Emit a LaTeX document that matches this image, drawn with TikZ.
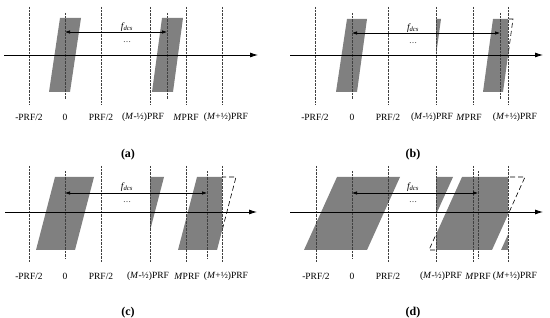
\documentclass[tikz,border=0pt]{standalone}
\usepackage{fontspec}
\setmainfont{Liberation Serif}
\usetikzlibrary{arrows.meta}
\begin{document}
\begin{tikzpicture}[x=1pt,y=-1pt,
  spec/.style={fill=black!50},
  gridln/.style={line width=0.8pt, black!75, dash pattern=on 0.7pt off 0.7pt},
  axisln/.style={line width=0.8pt, black, -{Latex[length=8pt,width=5pt]}},
  farrow/.style={line width=0.6pt, black, {Latex[length=5pt,width=3.5pt]}-{Latex[length=5pt,width=3.5pt]}},
  dashedge/.style={line width=0.6pt, black, dash pattern=on 5pt off 3pt},
  flab/.style={inner sep=0pt, font=\fontsize{9.5}{10}\selectfont},
  dotlab/.style={inner sep=0pt, font=\fontsize{8}{9}\selectfont},
  ticklab/.style={inner sep=0pt, font=\fontsize{9.5}{11}\selectfont},
  captlab/.style={inner sep=0pt, font=\fontsize{12}{13}\selectfont\bfseries}
]
\useasboundingbox (0,0) rectangle (550,318);

% ================= Panel (a)
\fill[spec] (60,18) -- (81,18) -- (70,92) -- (49,92) -- cycle;
\fill[spec] (162,18) -- (183,18) -- (173,92) -- (152,92) -- cycle;
\foreach \x in {29,101,150,186,222} \draw[gridln] (\x,7) -- (\x,104);
\foreach \x in {65,167} \draw[gridln] (\x,13) -- (\x,99);
\coordinate (a-s) at (4,55); \coordinate (a-e) at (258,55);
\draw[axisln] (a-s) -- (a-e);
\coordinate (a-f0) at (65,32); \coordinate (a-f1) at (167,32);
\draw[farrow] (a-f0) -- (a-f1);
\node[flab] (a-fl) at (127,27) {\itshape f\textsubscript{dcs}};
\node[dotlab] (a-dt) at (127,42) {\dots};
\node[ticklab] (a-l1) at (29,117) {-PRF/2};
\node[ticklab] (a-l2) at (65,117) {0};
\node[ticklab] (a-l3) at (101,117) {PRF/2};
\node[ticklab] (a-l4) at (143,117) {(\textit{M}-½)PRF};
\node[ticklab] (a-l5) at (186,117) {\textit{M}PRF};
\node[ticklab] (a-l6) at (226,117) {(\textit{M}+½)PRF};
\node[captlab] (a-cap) at (128,155) {(a)};

% ================= Panel (b)
\fill[spec] (347,19) -- (367,19) -- (357,92) -- (336,92) -- cycle;
\begin{scope}
  \clip (436,0) rectangle (508,110);
  \foreach \s in {-72,0,72}
    \fill[spec,xshift=\s] (493,19) -- (513,19) -- (503,92) -- (483,92) -- cycle;
\end{scope}
\begin{scope}
  \clip (508,0) rectangle (550,110);
  \draw[dashedge] (493,19) -- (513,19) -- (503,92) -- (483,92) -- cycle;
\end{scope}
\foreach \x in {315,388,436,473,508} \draw[gridln] (\x,7) -- (\x,104);
\foreach \x in {352,500} \draw[gridln] (\x,13) -- (\x,99);
\coordinate (b-s) at (290,55); \coordinate (b-e) at (543,55);
\draw[axisln] (b-s) -- (b-e);
\coordinate (b-f0) at (352,33); \coordinate (b-f1) at (500,33);
\draw[farrow] (b-f0) -- (b-f1);
\node[flab] (b-fl) at (413,28) {\itshape f\textsubscript{dcs}};
\node[dotlab] (b-dt) at (413,43) {\dots};
\node[ticklab] (b-l1) at (315,117) {-PRF/2};
\node[ticklab] (b-l2) at (352,117) {0};
\node[ticklab] (b-l3) at (388,117) {PRF/2};
\node[ticklab] (b-l4) at (432,117) {(\textit{M}-½)PRF};
\node[ticklab] (b-l5) at (469,117) {\textit{M}PRF};
\node[ticklab] (b-l6) at (515,117) {(\textit{M}+½)PRF};
\node[captlab] (b-cap) at (413,155) {(b)};

% ================= Panel (c)
\fill[spec] (55,177) -- (94,177) -- (75,250) -- (36,250) -- cycle;
\begin{scope}
  \clip (150,160) rectangle (222,270);
  \foreach \s in {-72,0,72}
    \fill[spec,xshift=\s] (197,177) -- (236,177) -- (217,250) -- (178,250) -- cycle;
\end{scope}
\begin{scope}
  \clip (222,160) rectangle (275,270);
  \draw[dashedge] (197,177) -- (236,177) -- (217,250) -- (178,250) -- cycle;
\end{scope}
\foreach \x in {29,101,150,186,222} \draw[gridln] (\x,166) -- (\x,262);
\foreach \x in {65,207} \draw[gridln] (\x,171) -- (\x,258);
\coordinate (c-s) at (5,212); \coordinate (c-e) at (257,212);
\draw[axisln] (c-s) -- (c-e);
\coordinate (c-f0) at (65,193); \coordinate (c-f1) at (207,193);
\draw[farrow] (c-f0) -- (c-f1);
\node[flab] (c-fl) at (127,187) {\itshape f\textsubscript{dcs}};
\node[dotlab] (c-dt) at (127,202) {\dots};
\node[ticklab] (c-l1) at (29,276) {-PRF/2};
\node[ticklab] (c-l2) at (65,276) {0};
\node[ticklab] (c-l3) at (101,276) {PRF/2};
\node[ticklab] (c-l4) at (148,276) {(\textit{M}-½)PRF};
\node[ticklab] (c-l5) at (187,276) {\textit{M}PRF};
\node[ticklab] (c-l6) at (226,276) {(\textit{M}+½)PRF};
\node[captlab] (c-cap) at (128,313) {(c)};

% ================= Panel (d)
\fill[spec] (337,177) -- (400,177) -- (367,250) -- (304,250) -- cycle;
\begin{scope}
  \clip (436,160) rectangle (508,270);
  \foreach \s in {-72,0,72}
    \fill[spec,xshift=\s] (462,177) -- (525,177) -- (492,250) -- (429,250) -- cycle;
\end{scope}
\begin{scope}
  \clip (508,160) rectangle (550,270);
  \draw[dashedge] (462,177) -- (525,177) -- (492,250) -- (429,250) -- cycle;
\end{scope}
\begin{scope}
  \clip (400,160) rectangle (436,270);
  \draw[dashedge] (462,177) -- (525,177) -- (492,250) -- (429,250) -- cycle;
\end{scope}
\foreach \x in {316,388,436,473,508} \draw[gridln] (\x,166) -- (\x,262);
\foreach \x in {352,478} \draw[gridln] (\x,171) -- (\x,258);
\coordinate (d-s) at (290,212); \coordinate (d-e) at (543,212);
\draw[axisln] (d-s) -- (d-e);
\coordinate (d-f0) at (352,193); \coordinate (d-f1) at (478,193);
\draw[farrow] (d-f0) -- (d-f1);
\node[flab] (d-fl) at (413,187) {\itshape f\textsubscript{dcs}};
\node[dotlab] (d-dt) at (413,202) {\dots};
\node[ticklab] (d-l1) at (316,276) {-PRF/2};
\node[ticklab] (d-l2) at (352,276) {0};
\node[ticklab] (d-l3) at (388,276) {PRF/2};
\node[ticklab] (d-l4) at (441,276) {(\textit{M}-½)PRF};
\node[ticklab] (d-l5) at (478,276) {\textit{M}PRF};
\node[ticklab] (d-l6) at (515,276) {(\textit{M}+½)PRF};
\node[captlab] (d-cap) at (413,313) {(d)};
\end{tikzpicture}
\end{document}
